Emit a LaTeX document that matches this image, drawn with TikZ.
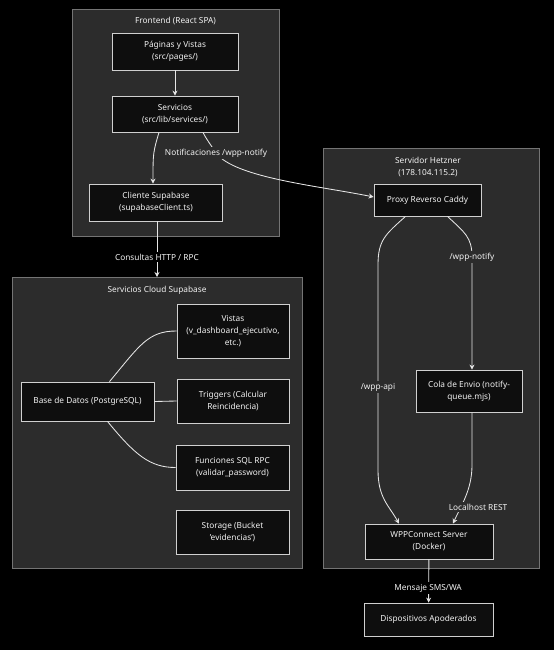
\documentclass[tikz,border=0pt]{standalone}
\usepackage{fontspec}
\setmainfont{Noto Sans}
\usetikzlibrary{arrows.meta}
\definecolor{bgc}{HTML}{000000}
\definecolor{clfill}{HTML}{2C2C2C}
\definecolor{cldraw}{HTML}{747474}
\definecolor{ndfill}{HTML}{0E0E0E}
\definecolor{nddraw}{HTML}{D0D0D0}
\definecolor{txt}{HTML}{F2F2F2}
\definecolor{edge}{HTML}{E6E6E6}
\tikzset{
  x=1pt,y=-1pt,
  cluster/.style={draw=cldraw,fill=clfill,line width=0.8pt},
  ctitle/.style={text=txt,font=\fontsize{8.3}{11.5}\selectfont,align=center,inner sep=0pt},
  box/.style={draw=nddraw,fill=ndfill,line width=0.8pt,text=txt,font=\fontsize{8.3}{11.8}\selectfont,align=center,inner sep=2pt},
  conn/.style={draw=edge,line width=0.85pt},
  arr/.style={conn,-{Stealth[length=5pt,width=5pt]}},
  lblk/.style={text=txt,font=\fontsize{8.3}{11}\selectfont,fill=bgc,inner sep=1.5pt,align=center},
  lblc/.style={text=txt,font=\fontsize{8.3}{11}\selectfont,fill=clfill,inner sep=1.5pt,align=center},
}
\begin{document}
\begin{tikzpicture}
\useasboundingbox (0,0) rectangle (554,650);
\fill[bgc] (0,0) rectangle (554,650);
% clusters
\draw[cluster] (72,9) rectangle (279,236);
\node[ctitle] (tfront) at (175.5,21) {Frontend (React SPA)};
\draw[cluster] (12,277) rectangle (302,568);
\coordinate (cloudtop) at (157,277);
\node[ctitle] (tcloud) at (157,290) {Servicios Cloud Supabase};
\draw[cluster] (323,148) rectangle (539,568);
\node[ctitle,align=center] (thetz) at (428,167) {Servidor Hetzner\\(178.104.115.2)};
% nodes
\node[box,minimum width=126pt,minimum height=37pt] (pag) at (175,51.5) {Páginas y Vistas\\(src/pages/)};
\node[box,minimum width=126pt,minimum height=36pt] (serv) at (175,114) {Servicios\\(src/lib/services/)};
\node[box,minimum width=133pt,minimum height=37pt] (cli) at (156,202.5) {Cliente Supabase\\(supabaseClient.ts)};
\node[box,minimum width=112pt,minimum height=54pt] (vistas) at (233,331) {Vistas\\(v\_dashboard\_ejecutivo,\\etc.)};
\node[box,minimum width=133pt,minimum height=39pt] (bd) at (87.5,401.5) {Base de Datos (PostgreSQL)};
\node[box,minimum width=112pt,minimum height=44pt] (trig) at (233,401) {Triggers (Calcular\\Reincidencia)};
\node[box,minimum width=113pt,minimum height=45pt] (func) at (232.5,467.5) {Funciones SQL RPC\\(validar\_password)};
\node[box,minimum width=113pt,minimum height=44pt] (stor) at (232.5,532) {Storage (Bucket\\'evidencias')};
\node[box,minimum width=107pt,minimum height=32pt] (proxy) at (427.5,200) {Proxy Reverso Caddy};
\node[box,minimum width=106pt,minimum height=42pt] (cola) at (469,391) {Cola de Envio (notify-\\queue.mjs)};
\node[box,minimum width=128pt,minimum height=35pt] (wpp) at (429,541.5) {WPPConnect Server\\(Docker)};
\node[box,minimum width=129pt,minimum height=33pt] (disp) at (428.5,619.5) {Dispositivos Apoderados};
% label points
\coordinate (pnotif) at (216,153);
\coordinate (pcons) at (157,257);
\coordinate (papi) at (378,387);
\coordinate (pwnot) at (472,257);
\coordinate (ploc) at (478,507);
\coordinate (pmsg) at (428,588);
% edges
\draw[arr] (pag) -- (serv);
\draw[arr] ([xshift=-16pt]serv.south) .. controls +(-6,20) and +(0,-30) .. ([xshift=-3pt]cli.north);
\draw[arr] ([xshift=28pt]serv.south) .. controls +(4,8) and +(-5,-8) .. (pnotif) .. controls (235,178) and (320,186) .. ([yshift=3pt]proxy.west);
\draw[arr] ([xshift=1pt]cli.south) -- (cloudtop);
\draw[conn] ([xshift=22pt]bd.north) .. controls (140,345) and (148,331) .. (vistas.west);
\draw[conn] (bd.east) -- (trig.west);
\draw[conn] ([xshift=20pt]bd.south) .. controls (135,455) and (150,467.5) .. (func.west);
\draw[arr] ([xshift=-22pt]proxy.south) .. controls +(-20,18) and +(0,-25) .. (378,265) -- (378,470) .. controls +(0,28) and +(-10,-18) .. ([xshift=-30pt]wpp.north);
\draw[arr] ([xshift=20pt]proxy.south) .. controls +(17,16) and +(0,-20) .. (pwnot) -- ([xshift=3pt]cola.north);
\draw[arr] ([xshift=3pt]cola.south) -- (472,465) .. controls +(0,25) and +(8,-18) .. ([xshift=24pt]wpp.north);
\draw[arr] (wpp) -- (disp);
% labels
\node[lblc] (lnotif) at (pnotif) {Notificaciones /wpp-notify};
\node[lblk] (lcons) at (pcons) {Consultas HTTP / RPC};
\node[lblc] (lapi) at (papi) {/wpp-api};
\node[lblc] (lwnot) at (pwnot) {/wpp-notify};
\node[lblc] (lloc) at (ploc) {Localhost REST};
\node[lblk] (lmsg) at (pmsg) {Mensaje SMS/WA};
\end{tikzpicture}
\end{document}
